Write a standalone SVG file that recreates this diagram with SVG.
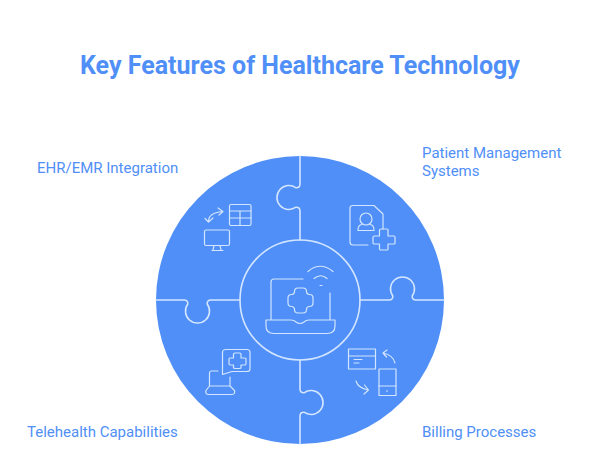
<svg xmlns="http://www.w3.org/2000/svg" width="600" height="476" viewBox="0 0 600 476">
<style>
.t{font-family:Roboto,"Liberation Sans",sans-serif;font-size:15px;fill:#4f8ff7}
.l{fill:none;stroke:#d3e5ff;stroke-width:1.6;stroke-linecap:round;stroke-linejoin:round}
.i{fill:none;stroke:#d3e5ff;stroke-width:1.2;stroke-linecap:round;stroke-linejoin:round}
</style>
<defs><path id="seam" class="l" d="M300 156V184Q300 188 296 187.800A12 12 0 1 0 296 207.200Q300 207 300 211V240"/></defs>
<rect width="600" height="476" fill="#fff"/>
<text x="300" y="74" text-anchor="middle" style="font-family:Roboto,'Liberation Sans',sans-serif;font-size:25px;font-weight:700;fill:#4f8ff7">Key Features of Healthcare Technology</text>
<circle cx="300" cy="300" r="144" fill="#4f8ff7"/>
<g id="connectors">
<use href="#seam"/>
<use href="#seam" transform="rotate(90 300 300)"/>
<use href="#seam" transform="rotate(180 300 300)"/>
<use href="#seam" transform="rotate(270 300 300)"/>
</g>
<g id="center"><circle class="l" cx="300" cy="300" r="60"/>
<path class="i" d="M303 279H274Q271 279 271 282V320M330 293V320M266 320H291Q294 320 296 322Q300 325 304 322Q306 320 309 320H335V326Q335 333.500 327 333.500H274Q266 333.500 266 326Z"/>
<path class="i" d="M294.500 291.500Q294.500 288 298 288H303Q306.500 288 306.500 291.500Q306.500 294.500 309.500 294.500Q313 294.500 313 298V303Q313 306.500 309.500 306.500Q306.500 306.500 306.500 309.500Q306.500 313 303 313H298Q294.500 313 294.500 309.500Q294.500 306.500 291.500 306.500Q288 306.500 288 303V298Q288 294.500 291.500 294.500Q294.500 294.500 294.500 291.500Z"/>
<path class="i" d="M308 271.500Q320 261 333 271.500M314 278.500Q321 273 327 278.500M320 285.500H322"/>
</g>
<g id="ehr"><text class="t" x="37" y="173">EHR/EMR Integration</text>
<rect class="i" x="229.500" y="204.500" width="21.500" height="21" rx="1.500"/>
<path class="i" d="M229.500 211H251M229.500 218H251M240 211V225.500"/>
<rect class="i" x="204.500" y="230" width="25" height="15.500" rx="1.500"/>
<path class="i" d="M214 245.500L213 250M220 245.500L221 250M212 250.500H223"/>
<path class="i" d="M205 218.500L208.500 222L213 218M208.500 222Q208 213 222.500 211.500M218 208L223 211.500L219 215"/>
</g>
<g id="patient"><text class="t" x="422" y="158">Patient Management</text><text class="t" x="422" y="176">Systems</text>
<path class="i" d="M368 245H353Q350 245 350 242V208Q350 205.500 353 205.500H374L383 214V229"/>
<circle class="i" cx="366" cy="219" r="6"/>
<path class="i" d="M358 230Q358 225 362 224.500M370 224.500Q374 225 374 230V230.500H358V230"/>
<path class="i" d="M379.500 230Q379.500 229 381 229H387Q388 229 388 230V236H394Q395 236 395 237.500V243Q395 244 394 244H388V249Q388 250 387 250H381Q379.500 250 379.500 249V244H374.500Q373 244 373 243V237.500Q373 236 374.500 236H379.500Z"/>
</g>
<g id="telehealth"><text class="t" x="27" y="437">Telehealth Capabilities</text>
<path class="i" d="M226 349.500H247Q250 349.500 250 352.500V369Q250 371.500 247 371.500H232L222.500 374.500V352.500Q222.500 349.500 226 349.500Z"/>
<path class="i" d="M233.500 354Q233.500 353 235 353H239.500Q241 353 241 354V358H245Q246 358 246 359V363.500Q246 365 245 365H241V367.500Q241 368.500 239.500 368.500H235Q233.500 368.500 233.500 367.500V365H230Q229 365 229 363.500V359Q229 358 230 358H233.500Z"/>
<path class="i" d="M218 371H211Q209.500 371 209.500 373V386L206 390.500Q205 394 208 394.500H232Q235.500 394 234.500 390.500L230 386V377M209.500 386H230"/>
</g>
<g id="billing"><text class="t" x="422" y="437">Billing Processes</text>
<rect class="i" x="348.500" y="349" width="27" height="20"/>
<path class="i" d="M348.500 356H375.500M354 359.500H362M354 363H359"/>
<rect class="i" x="379" y="369" width="17" height="26.500"/>
<path class="i" d="M379 386H396M386.500 391H387.500"/>
<path class="i" d="M395 363Q393 355 383 353M387 350L383 353L386.500 357"/>
<path class="i" d="M356 381Q358 388 368 390M364.500 385L368.500 390L364 394"/>
</g>
</svg>
